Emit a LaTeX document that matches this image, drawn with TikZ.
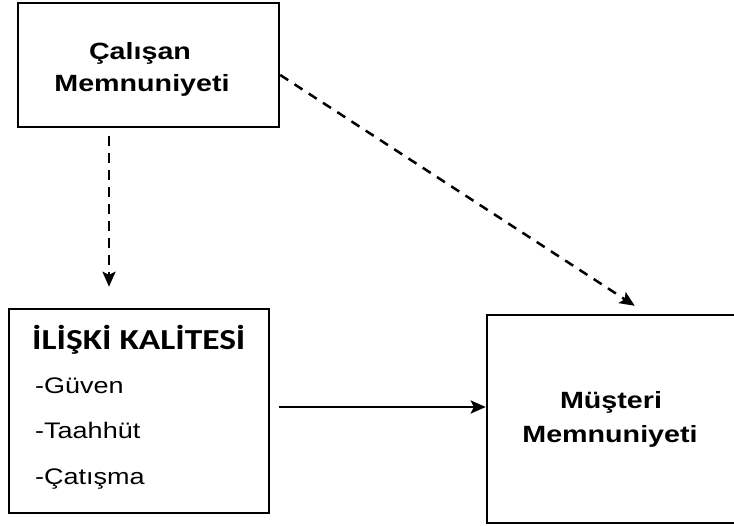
\documentclass[tikz,border=0pt]{standalone}
\usepackage{fontspec}
\setmainfont{Liberation Sans}
\newfontfamily\arialS[FakeStretch=1.22]{Liberation Sans}
\newfontfamily\arialI[FakeStretch=1.2]{Liberation Sans}
\newfontfamily\calS[FakeStretch=1.22]{Carlito}
\usetikzlibrary{arrows.meta}
\begin{document}
\begin{tikzpicture}[x=1pt,y=-1pt,
  box/.style={draw, line width=2.5pt, inner sep=0pt},
  head/.style={font=\arialS\bfseries\fontsize{23.5}{27}\selectfont, inner sep=0pt, anchor=base},
  ktitle/.style={font=\calS\bfseries\fontsize{29}{33}\selectfont, inner sep=0pt, anchor=base west},
  item/.style={font=\arialI\fontsize{22.5}{26}\selectfont, inner sep=0pt, anchor=base west},
  tip/.style={-{Stealth[length=15pt,width=13pt,inset=3pt]}},
  dasharrow/.style={tip, line width=2.5pt, dash pattern=on 9.5pt off 7.5pt},
  solidarrow/.style={tip, line width=2.5pt}]
\useasboundingbox (0,0) rectangle (734,526);
\clip (0,0) rectangle (734,526);
% boxes
\node[box, minimum width=261pt, minimum height=124pt] (cs) at (148.5,65) {};
\node[box, minimum width=260pt, minimum height=204pt] (lb) at (139,411) {};
\node[box, minimum width=253pt, minimum height=208pt] (rb) at (613.5,419) {};
% texts
\node[head] (cs1) at (140,60) {Çalışan};
\node[head] (cs2) at (142,92) {Memnuniyeti};
\node[ktitle] (kt) at (32,350) {İLİŞKİ KALİTESİ};
\node[item] (i1) at (35,394) {-Güven};
\node[item] (i2) at (35,439) {-Taahhüt};
\node[item] (i3) at (35,485) {-Çatışma};
\node[head] (ms1) at (611,409) {Müşteri};
\node[head] (ms2) at (610,443) {Memnuniyeti};
% connectors
\draw[dasharrow, shorten <=8pt, shorten >=21pt] ([xshift=-39.5pt]cs.south) -- ([xshift=-30pt]lb.north);
\draw[dasharrow, shorten >=14.6pt] ([yshift=-10pt]cs.east) -- ([xshift=33.5pt]rb.north);
\draw[solidarrow, shorten <=9pt] ([yshift=4pt]lb.east) -- ([yshift=12pt]rb.west);
\end{tikzpicture}
\end{document}
